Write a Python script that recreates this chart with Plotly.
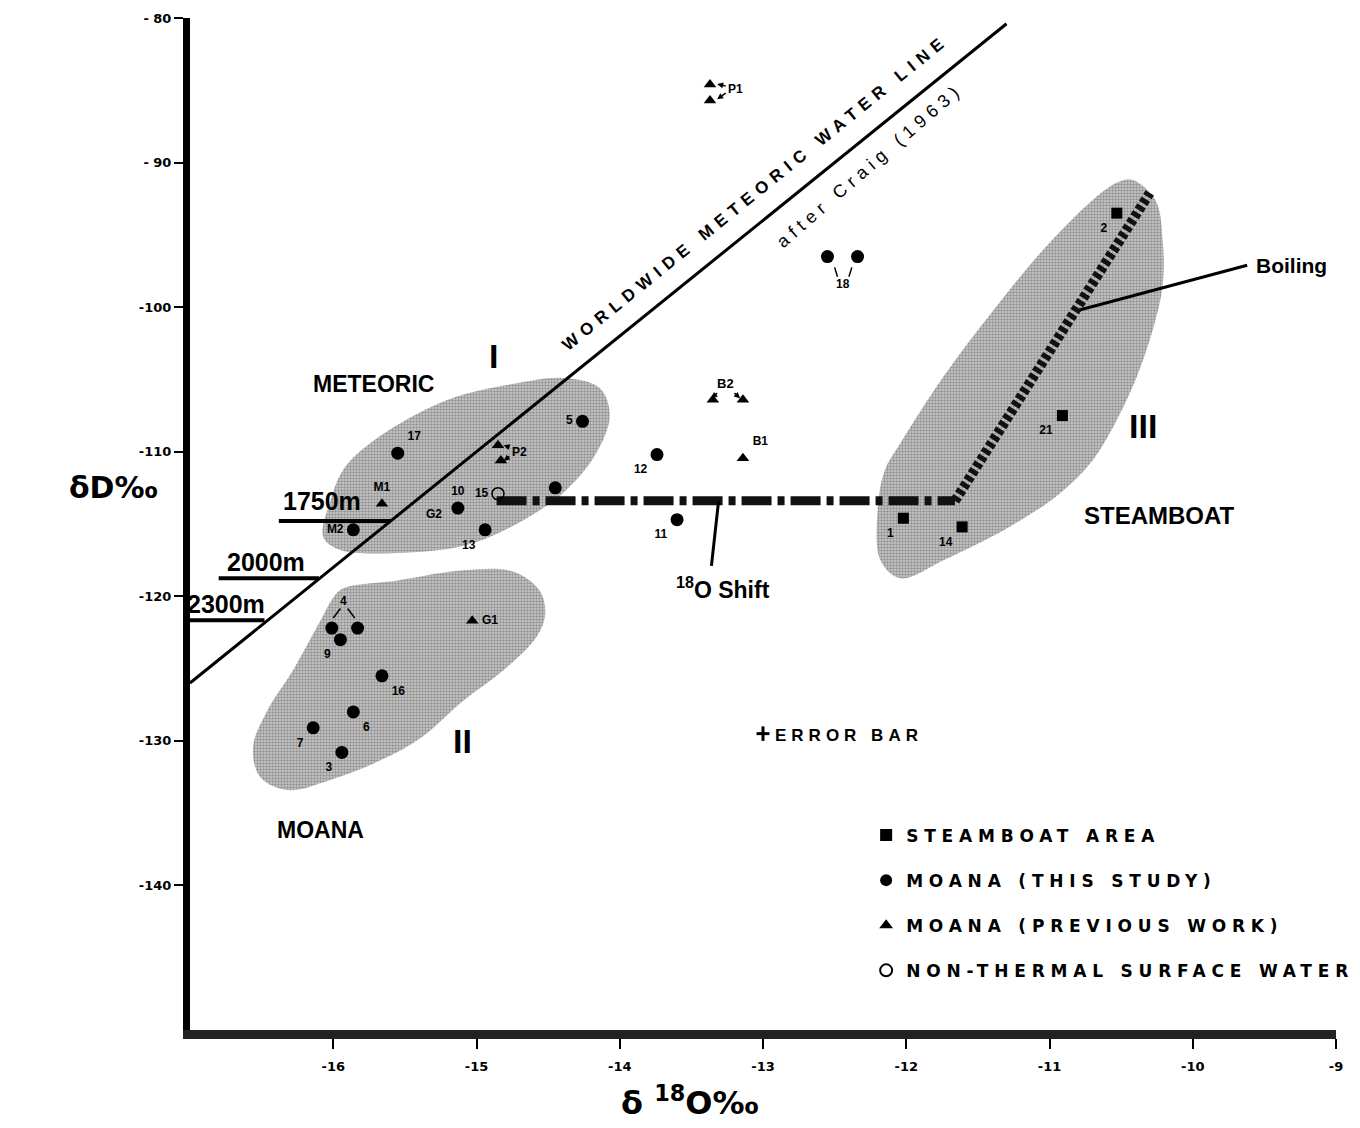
import plotly.graph_objects as go

# ---------------- data ----------------
x_tickvals = [-16, -15, -14, -13, -12, -11, -10, -9]
x_ticktext = ['-16', '-15', '-14', '-13', '-12', '-11', '-10', '-9']
y_tickvals = [-80, -90, -100, -110, -120, -130, -140]
y_ticktext = ['- 80', '- 90', '-100', '-110', '-120', '-130', '-140']

# Steamboat area (squares)
steam_x = [-10.53, -10.91, -12.02, -11.61]
steam_y = [-93.5, -107.5, -114.6, -115.2]
steam_lbl = ['2', '21', '1', '14']
steam_pos = ['bottom left', 'bottom left', 'bottom left', 'bottom left']

# Moana, this study (filled circles)
moana_x = [-15.55, -15.86, -15.13, -14.94, -14.45, -14.26, -13.74, -13.60, -12.55, -12.34,
           -16.01, -15.83, -15.95, -15.66, -15.86, -16.14, -15.94]
moana_y = [-110.1, -115.4, -113.9, -115.4, -112.5, -107.9, -110.2, -114.7, -96.5, -96.5,
           -122.2, -122.2, -123.0, -125.5, -128.0, -129.1, -130.8]
moana_lbl = ['17', 'M2', '10', '13', '', '5', '12', '11', '', '',
             '', '', '9', '16', '6', '7', '3']
moana_pos = ['top right', 'middle left', 'top center', 'bottom left', 'top right', 'middle left',
             'bottom left', 'bottom left', 'top center', 'top center',
             'top center', 'top center', 'bottom left', 'bottom right', 'bottom right',
             'bottom left', 'bottom left']

# Moana, previous work (triangles)
prev_x = [-13.37, -13.37, -14.85, -14.83, -15.66, -13.35, -13.14, -13.14, -15.03]
prev_y = [-84.6, -85.7, -109.55, -110.6, -113.6, -106.4, -106.4, -110.45, -121.7]
prev_lbl = ['', '', '', '', 'M1', '', '', 'B1', 'G1']
prev_pos = ['top center', 'top center', 'top center', 'top center', 'top center',
            'top center', 'top center', 'top right', 'middle right']

# Non-thermal surface water (open circle)
surf_x = [-14.85]
surf_y = [-112.9]
surf_lbl = ['15']
surf_pos = ['middle left']

# Worldwide meteoric water line (Craig 1963)
mwl_x = [-17.0, -11.3]
mwl_y = [-126.0, -80.4]

# Depth lines
depth_lbl = ['1750m', '2000m', '2300m']
depth_y = [-114.8, -118.75, -121.66]
depth_x0 = [-16.38, -16.80, -17.0]
depth_x1 = [-15.60, -16.10, -16.48]
depth_tx = [-16.08, -16.47, -16.75]
depth_ty = [-113.4, -117.6, -120.5]

# 18O shift and boiling paths
shift_x = [-14.86, -11.66]
shift_y = [-113.4, -113.4]
boil_x = [-11.66, -10.30]
boil_y = [-113.4, -92.1]
shift_lead_x = [-13.31, -13.36]
shift_lead_y = [-113.4, -117.9]
boil_lead_x = [-10.79, -9.62]
boil_lead_y = [-100.2, -97.1]

# Grouping regions I, II, III
reg1_x = [-16.07, -16.02, -15.92, -15.67, -15.20, -14.74, -14.39, -14.14, -14.07, -14.17,
          -14.39, -14.74, -15.09, -15.55, -15.95, -16.07]
reg1_y = [-115.9, -113.4, -111.1, -108.9, -106.4, -105.3, -104.9, -105.6, -107.5, -110.2,
          -112.8, -115.1, -116.5, -117.0, -116.8, -115.9]
reg2_x = [-15.93, -15.55, -15.09, -14.74, -14.56, -14.52, -14.58, -14.81, -15.09, -15.39,
          -15.67, -16.02, -16.32, -16.51, -16.56, -16.46, -16.28, -16.09, -16.00, -15.93]
reg2_y = [-119.45, -118.9, -118.2, -118.3, -119.6, -121.2, -122.8, -125.1, -127.2, -129.8,
          -131.35, -132.7, -133.4, -132.5, -130.45, -127.9, -125.1, -121.7, -120.1, -119.45]
reg3_x = [-10.42, -10.26, -10.21, -10.21, -10.28, -10.39, -10.53, -10.70, -10.93, -11.28,
          -11.74, -12.04, -12.18, -12.20, -12.15, -12.04, -11.74, -11.39, -11.05, -10.70,
          -10.52, -10.42]
reg3_y = [-91.2, -92.6, -95.4, -98.5, -101.6, -104.8, -107.8, -110.6, -112.9, -115.2,
          -117.5, -118.75, -117.5, -114.05, -111.3, -109.4, -104.8, -100.2, -96.1, -92.6,
          -91.35, -91.2]

# Error bar cross
err_x = [-13.0]
err_y = [-129.5]
err_dx = [0.045]
err_dy = [0.5]

# ---------------- figure ----------------
fig = go.Figure()
FONT = 'Liberation Sans'
WIDE = 'DejaVu Sans'

for rx, ry in [(reg1_x, reg1_y), (reg2_x, reg2_y), (reg3_x, reg3_y)]:
    fig.add_trace(go.Scatter(
        x=rx, y=ry, mode='lines', fill='toself',
        line=dict(width=0, shape='spline', color='rgba(0,0,0,0)'),
        fillcolor='#b8b8b8',
        fillpattern=dict(shape='.', size=3, solidity=0.5, fgcolor='#555555', bgcolor='#cdcdcd'),
        showlegend=False, hoverinfo='skip'))

# meteoric water line
fig.add_trace(go.Scatter(x=mwl_x, y=mwl_y, mode='lines', line=dict(color='black', width=3),
                         showlegend=False, hoverinfo='skip'))

# depth lines
for i in range(len(depth_lbl)):
    fig.add_trace(go.Scatter(x=[depth_x0[i], depth_x1[i]], y=[depth_y[i], depth_y[i]], mode='lines',
                             line=dict(color='black', width=4), showlegend=False, hoverinfo='skip'))

# shift and boiling paths
fig.add_trace(go.Scatter(x=shift_x, y=shift_y, mode='lines',
                         line=dict(color='#111', width=9, dash='30px,6px,7px,6px'),
                         showlegend=False, hoverinfo='skip'))
fig.add_trace(go.Scatter(x=boil_x, y=boil_y, mode='lines',
                         line=dict(color='#111', width=10, dash='5px,3px'),
                         showlegend=False, hoverinfo='skip'))
fig.add_trace(go.Scatter(x=shift_lead_x, y=shift_lead_y, mode='lines',
                         line=dict(color='black', width=3), showlegend=False, hoverinfo='skip'))
fig.add_trace(go.Scatter(x=boil_lead_x, y=boil_lead_y, mode='lines',
                         line=dict(color='black', width=3), showlegend=False, hoverinfo='skip'))

# error bar
fig.add_trace(go.Scatter(x=err_x, y=err_y, mode='markers', marker=dict(size=1, color='black'),
                         error_x=dict(type='data', array=err_dx, width=0, thickness=3, color='black'),
                         error_y=dict(type='data', array=err_dy, width=0, thickness=3, color='black'),
                         showlegend=False, hoverinfo='skip'))

LEG = "<span style='letter-spacing:5.8px'>{}</span>"

# marker series
fig.add_trace(go.Scatter(x=steam_x, y=steam_y, mode='markers', name=LEG.format('STEAMBOAT AREA'),
                         marker=dict(symbol='square', size=11, color='black'), legendgroup='a'))
fig.add_trace(go.Scatter(x=moana_x, y=moana_y, mode='markers', name=LEG.format('MOANA (THIS STUDY)'),
                         marker=dict(symbol='circle', size=13, color='black'), legendgroup='b'))
fig.add_trace(go.Scatter(x=prev_x, y=prev_y, mode='markers', name=LEG.format('MOANA (PREVIOUS WORK)'),
                         marker=dict(symbol='triangle-up', size=11, color='black'), legendgroup='c'))
fig.add_trace(go.Scatter(x=surf_x, y=surf_y, mode='markers', name=LEG.format('NON-THERMAL SURFACE WATER'),
                         marker=dict(symbol='circle-open', size=12, color='black', line=dict(width=1.5)),
                         legendgroup='d'))

# point labels (only labelled points; transparent spacer markers push the text off the symbols)
lblfont = dict(family=FONT, size=12, color='black', weight='bold')
for xs, ys, ls, ps in [(steam_x, steam_y, steam_lbl, steam_pos),
                       (moana_x, moana_y, moana_lbl, moana_pos),
                       (prev_x, prev_y, prev_lbl, prev_pos),
                       (surf_x, surf_y, surf_lbl, surf_pos)]:
    keep = [i for i, t in enumerate(ls) if t]
    fig.add_trace(go.Scatter(x=[xs[i] for i in keep], y=[ys[i] for i in keep], mode='markers+text',
                             text=[ls[i] for i in keep], textposition=[ps[i] for i in keep],
                             textfont=lblfont, marker=dict(size=14, color='rgba(0,0,0,0)'),
                             showlegend=False, hoverinfo='skip'))

# small connectors (18 and 4)
for cx, cy in [([-12.50, -12.48], [-97.25, -97.9]), ([-12.38, -12.40], [-97.25, -97.9]),
               ([-15.95, -16.0], [-120.85, -121.5]), ([-15.90, -15.85], [-120.85, -121.5])]:
    fig.add_trace(go.Scatter(x=cx, y=cy, mode='lines', line=dict(color='black', width=1.5),
                             showlegend=False, hoverinfo='skip'))

ann = []
def txt(x, y, t, size, bold=True, xanchor='center', angle=0, fam=FONT):
    ann.append(dict(x=x, y=y, xref='x', yref='y', text=t, showarrow=False, xanchor=xanchor,
                    textangle=angle,
                    font=dict(family=fam, size=size, color='black', weight='bold' if bold else 'normal')))

txt(-12.44, -98.4, '18', 12)
txt(-15.93, -120.3, '4', 12)
txt(-15.30, -114.3, 'G2', 12)
txt(-13.19, -84.9, 'P1', 12)
txt(-14.70, -110.0, 'P2', 12)
txt(-13.26, -105.3, 'B2', 13)

# arrows for P1, P2, B2
for hx, hy, tx_, ty_ in [(-13.32, -84.57, -13.25, -84.72), (-13.32, -85.62, -13.25, -85.12),
                         (-14.81, -109.55, -14.76, -109.72), (-14.81, -110.62, -14.76, -110.24),
                         (-13.36, -106.3, -13.31, -105.85), (-13.16, -106.3, -13.21, -105.85)]:
    ann.append(dict(x=hx, y=hy, ax=tx_, ay=ty_, xref='x', yref='y', axref='x', ayref='y',
                    showarrow=True, arrowhead=2, arrowsize=0.8, arrowwidth=1.5, arrowcolor='black', text=''))

txt(-15.72, -105.3, 'METEORIC', 23)
txt(-14.88, -103.4, 'I', 34)
txt(-16.09, -136.2, 'MOANA', 23)
txt(-15.10, -130.0, 'II', 34)
txt(-10.35, -108.2, 'III', 34)
txt(-10.23, -114.4, 'STEAMBOAT', 24)
txt(-9.57, -97.1, 'Boiling', 21, xanchor='left')
txt(-13.28, -119.4, '<sup>18</sup>O Shift', 23)
txt(-12.93, -129.6, "<span style='letter-spacing:5px'>ERROR BAR</span>", 17, xanchor='left')
for i in range(len(depth_lbl)):
    txt(depth_tx[i], depth_ty[i], depth_lbl[i], 25)
txt(-13.05, -92.1, "<span style='letter-spacing:6.2px'>WORLDWIDE METEORIC WATER LINE</span>", 17, angle=-39)
txt(-12.25, -90.2, "<span style='letter-spacing:5.5px'>after Craig (1963)</span>", 18, bold=False, angle=-41)

# axis titles
ann.append(dict(x=-0.107, y=0.536, xref='paper', yref='paper', text='δD‰', showarrow=False,
                yanchor='middle',
                font=dict(family=WIDE, size=30, color='black', weight='bold')))
ann.append(dict(x=0.436, y=-0.07, xref='paper', yref='paper', text='δ <sup>18</sup>O‰', showarrow=False,
                yanchor='middle',
                font=dict(family=WIDE, size=32, color='black', weight='bold')))

fig.update_layout(
    width=1360, height=1128,
    margin=dict(l=190, r=24, t=18, b=98, autoexpand=False),
    paper_bgcolor='white', plot_bgcolor='white',
    annotations=ann,
    showlegend=True,
    legend=dict(x=0.590, y=0.210, xanchor='left', yanchor='top', tracegroupgap=20,
                font=dict(family=WIDE, size=17, color='black', weight='bold'),
                bgcolor='rgba(0,0,0,0)', itemsizing='constant'),
    xaxis=dict(range=[-17, -9], tickvals=x_tickvals, ticktext=x_ticktext, showgrid=False, zeroline=False,
               showline=True, linewidth=9, linecolor='#222', ticks='outside', ticklen=10, tickwidth=2,
               tickcolor='black', ticklabelstandoff=6,
               tickfont=dict(family=WIDE, size=13, color='black', weight='bold')),
    yaxis=dict(range=[-150, -80], tickvals=y_tickvals, ticktext=y_ticktext, showgrid=False, zeroline=False,
               showline=True, linewidth=7, linecolor='black', ticks='outside', ticklen=9, tickwidth=2,
               tickcolor='black',
               tickfont=dict(family=WIDE, size=13, color='black', weight='bold')),
)

fig.write_html('out.html')
